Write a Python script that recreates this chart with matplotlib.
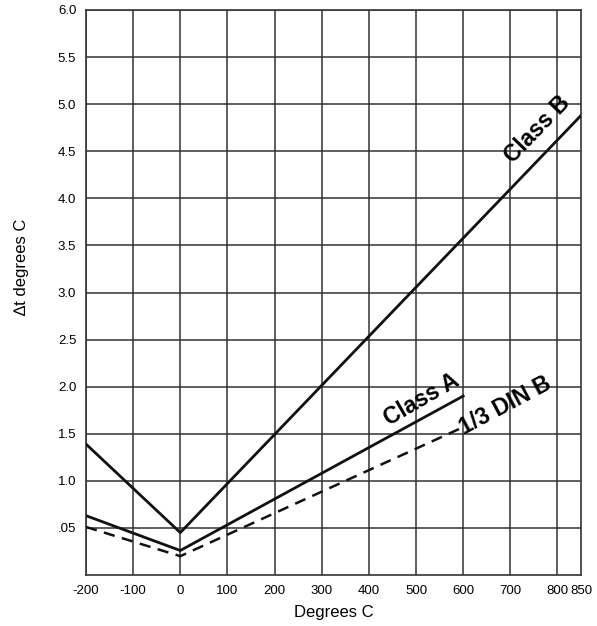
import matplotlib
matplotlib.use('Agg')
import matplotlib.pyplot as plt

# tolerance curves
temps_b = [-200, 0, 850]
class_b = [1.39, 0.45, 4.88]
temps_a = [-200, 0, 600]
class_a = [0.63, 0.26, 1.90]
temps_din = [-200, 0, 600]
din_b = [0.51, 0.20, 1.57]

x_ticks = [-200, -100, 0, 100, 200, 300, 400, 500, 600, 700, 800, 850]
y_ticks = [0.5, 1.0, 1.5, 2.0, 2.5, 3.0, 3.5, 4.0, 4.5, 5.0, 5.5, 6.0]
y_labels = ['.05', '1.0', '1.5', '2.0', '2.5', '3.0', '3.5', '4.0', '4.5', '5.0', '5.5', '6.0']

plt.rcParams['font.family'] = ['Liberation Sans', 'DejaVu Sans']

fig = plt.figure(figsize=(5.97, 6.26), dpi=100)
ax = fig.add_axes([86 / 597, 1 - 575 / 626, 495 / 597, 565 / 626])

ax.set_xlim(-200, 850)
ax.set_ylim(0, 6.0)

# grid
for x in x_ticks[:-1]:
    ax.axvline(x, color='#333333', lw=1.1, zorder=1)
for y in y_ticks:
    ax.axhline(y, color='#333333', lw=1.1, zorder=1)

ax.plot(temps_b, class_b, color='#111111', lw=2.0, zorder=3)
ax.plot(temps_a, class_a, color='#111111', lw=2.0, zorder=3)
ax.plot(temps_din, din_b, color='#111111', lw=1.8, ls=(0, (4.5, 3)), zorder=3)

lbl = dict(fontsize=16.5, fontweight='bold', ha='center', va='center', zorder=4)
ax.text(757, 4.73, 'Class B', rotation=46, **lbl)
ax.text(511, 1.86, 'Class A', rotation=30, **lbl)
ax.text(689, 1.80, '1/3 DIN B', rotation=28, **lbl)

ax.set_xticks(x_ticks)
ax.set_xticklabels([str(t) for t in x_ticks], fontsize=9.5)
ax.set_yticks(y_ticks)
ax.set_yticklabels(y_labels, fontsize=9.5)
ax.tick_params(length=0, pad=7)

for s in ax.spines.values():
    s.set_color('#333333')
    s.set_linewidth(1.2)

ax.set_xlabel('Degrees C', fontsize=12, labelpad=6)
fig.text(22 / 597, 1 - 267 / 626, '\u2206t degrees C', rotation=90, fontsize=12,
         ha='center', va='center')

fig.savefig('out.png', dpi=100)
